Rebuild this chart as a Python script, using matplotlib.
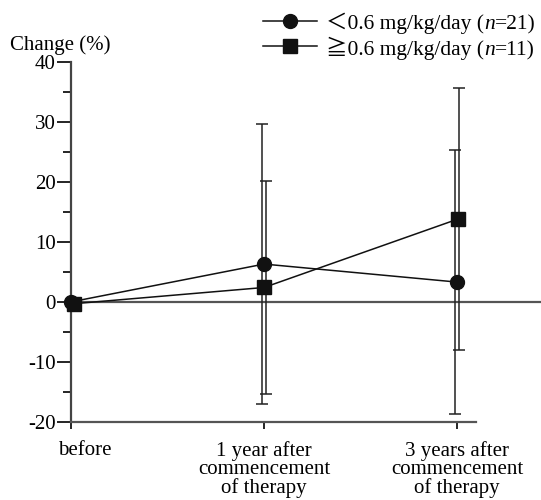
import numpy as np
import matplotlib
matplotlib.use("Agg")
import matplotlib.pyplot as plt
import matplotlib.transforms as mtransforms
from matplotlib.lines import Line2D

plt.rcParams['font.family'] = ['Liberation Serif', 'Noto Sans CJK JP']
plt.rcParams['axes.unicode_minus'] = False

# data
timepoints = ["before", "1 year after\ncommencement\nof therapy", "3 years after\ncommencement\nof therapy"]
low_mean = [0.0, 6.3, 3.3]
low_sd = [0.0, 23.3, 22.0]
high_mean = [-0.3, 2.4, 13.8]
high_sd = [0.0, 17.7, 21.8]
# legend text split so that n can be italic: (before n, n, after n)
low_label = ("＜0.6 mg/kg/day (", "n", "=21)")
high_label = ("≧0.6 mg/kg/day (", "n", "=11)")

fs = 15
W, H = 541, 500
fig = plt.figure(figsize=(W / 100, H / 100), dpi=100)
ax = fig.add_axes([71 / W, 78 / H, 1 - 71 / W, (422 - 61.7) / H])

x = np.arange(len(timepoints))
off = 0.012

# error bars (slightly apart so both stay visible)
ax.errorbar(x[1:] - off, low_mean[1:], yerr=low_sd[1:], fmt='none', ecolor='#222222',
            elinewidth=1.1, capsize=4, capthick=1.1, zorder=2)
ax.errorbar(x[1:] + off, high_mean[1:], yerr=high_sd[1:], fmt='none', ecolor='#222222',
            elinewidth=1.1, capsize=4, capthick=1.1, zorder=2)

ax.plot(x, low_mean, color='#111111', lw=1.1, marker='o', ms=10, zorder=4, clip_on=False)
ax.plot(x + np.array([0.015, 0, 0.005]), high_mean, color='#111111', lw=1.1, marker='s',
        ms=9.5, zorder=5, clip_on=False)

# zero line running out to the right edge
ax.axhline(0, color='#555555', lw=1.6, zorder=1)

ax.set_xlim(0, 2.435)
ax.set_ylim(-20, 40)
ax.set_yticks(np.arange(-20, 41, 10))
ax.set_yticks(np.arange(-15, 40, 10), minor=True)
ax.set_xticks(x)
ax.set_xticklabels(timepoints, fontsize=fs, linespacing=0.92)
ax.tick_params(axis='y', labelsize=fs, length=10, width=1.2, direction='out', pad=1)
ax.tick_params(axis='y', which='minor', length=6, width=1.2, direction='out')
ax.tick_params(axis='x', length=5, width=1.2, direction='out', pad=9)

lab0 = ax.get_xticklabels()[0]
lab0.set_transform(lab0.get_transform() + mtransforms.ScaledTranslation(0.14, 0, fig.dpi_scale_trans))

for s in ['top', 'right']:
    ax.spines[s].set_visible(False)
ax.spines['left'].set_color('#444444')
ax.spines['left'].set_linewidth(1.6)
ax.spines['bottom'].set_color('#555555')
ax.spines['bottom'].set_linewidth(1.6)
ax.spines['bottom'].set_bounds(0, 2.1)

fig.text(10 / W, 1 - 45 / H, "Change (%)", fontsize=fs, va='center', ha='left')

# legend drawn by hand (mathtext cannot fall back to CJK glyphs)
lfs = 15.5
for yy, mk, ms, parts in [(21, 'o', 10, low_label), (46, 's', 9.5, high_label)]:
    yf = 1 - yy / H
    fig.add_artist(Line2D([263 / W, 317 / W], [yf, yf], color='#111111', lw=1.1))
    fig.add_artist(Line2D([290 / W], [yf], color='#111111', marker=mk, ms=ms))
    t = fig.text(326 / W, yf, parts[0], fontsize=lfs, va='center_baseline', ha='left')
    t = ax.annotate(parts[1], xy=(1, 0), xycoords=t, fontsize=lfs, style='italic',
                    va='bottom', ha='left', annotation_clip=False)
    ax.annotate(parts[2], xy=(1, 0), xycoords=t, fontsize=lfs,
                va='bottom', ha='left', annotation_clip=False)

fig.savefig("out.png", dpi=100)
